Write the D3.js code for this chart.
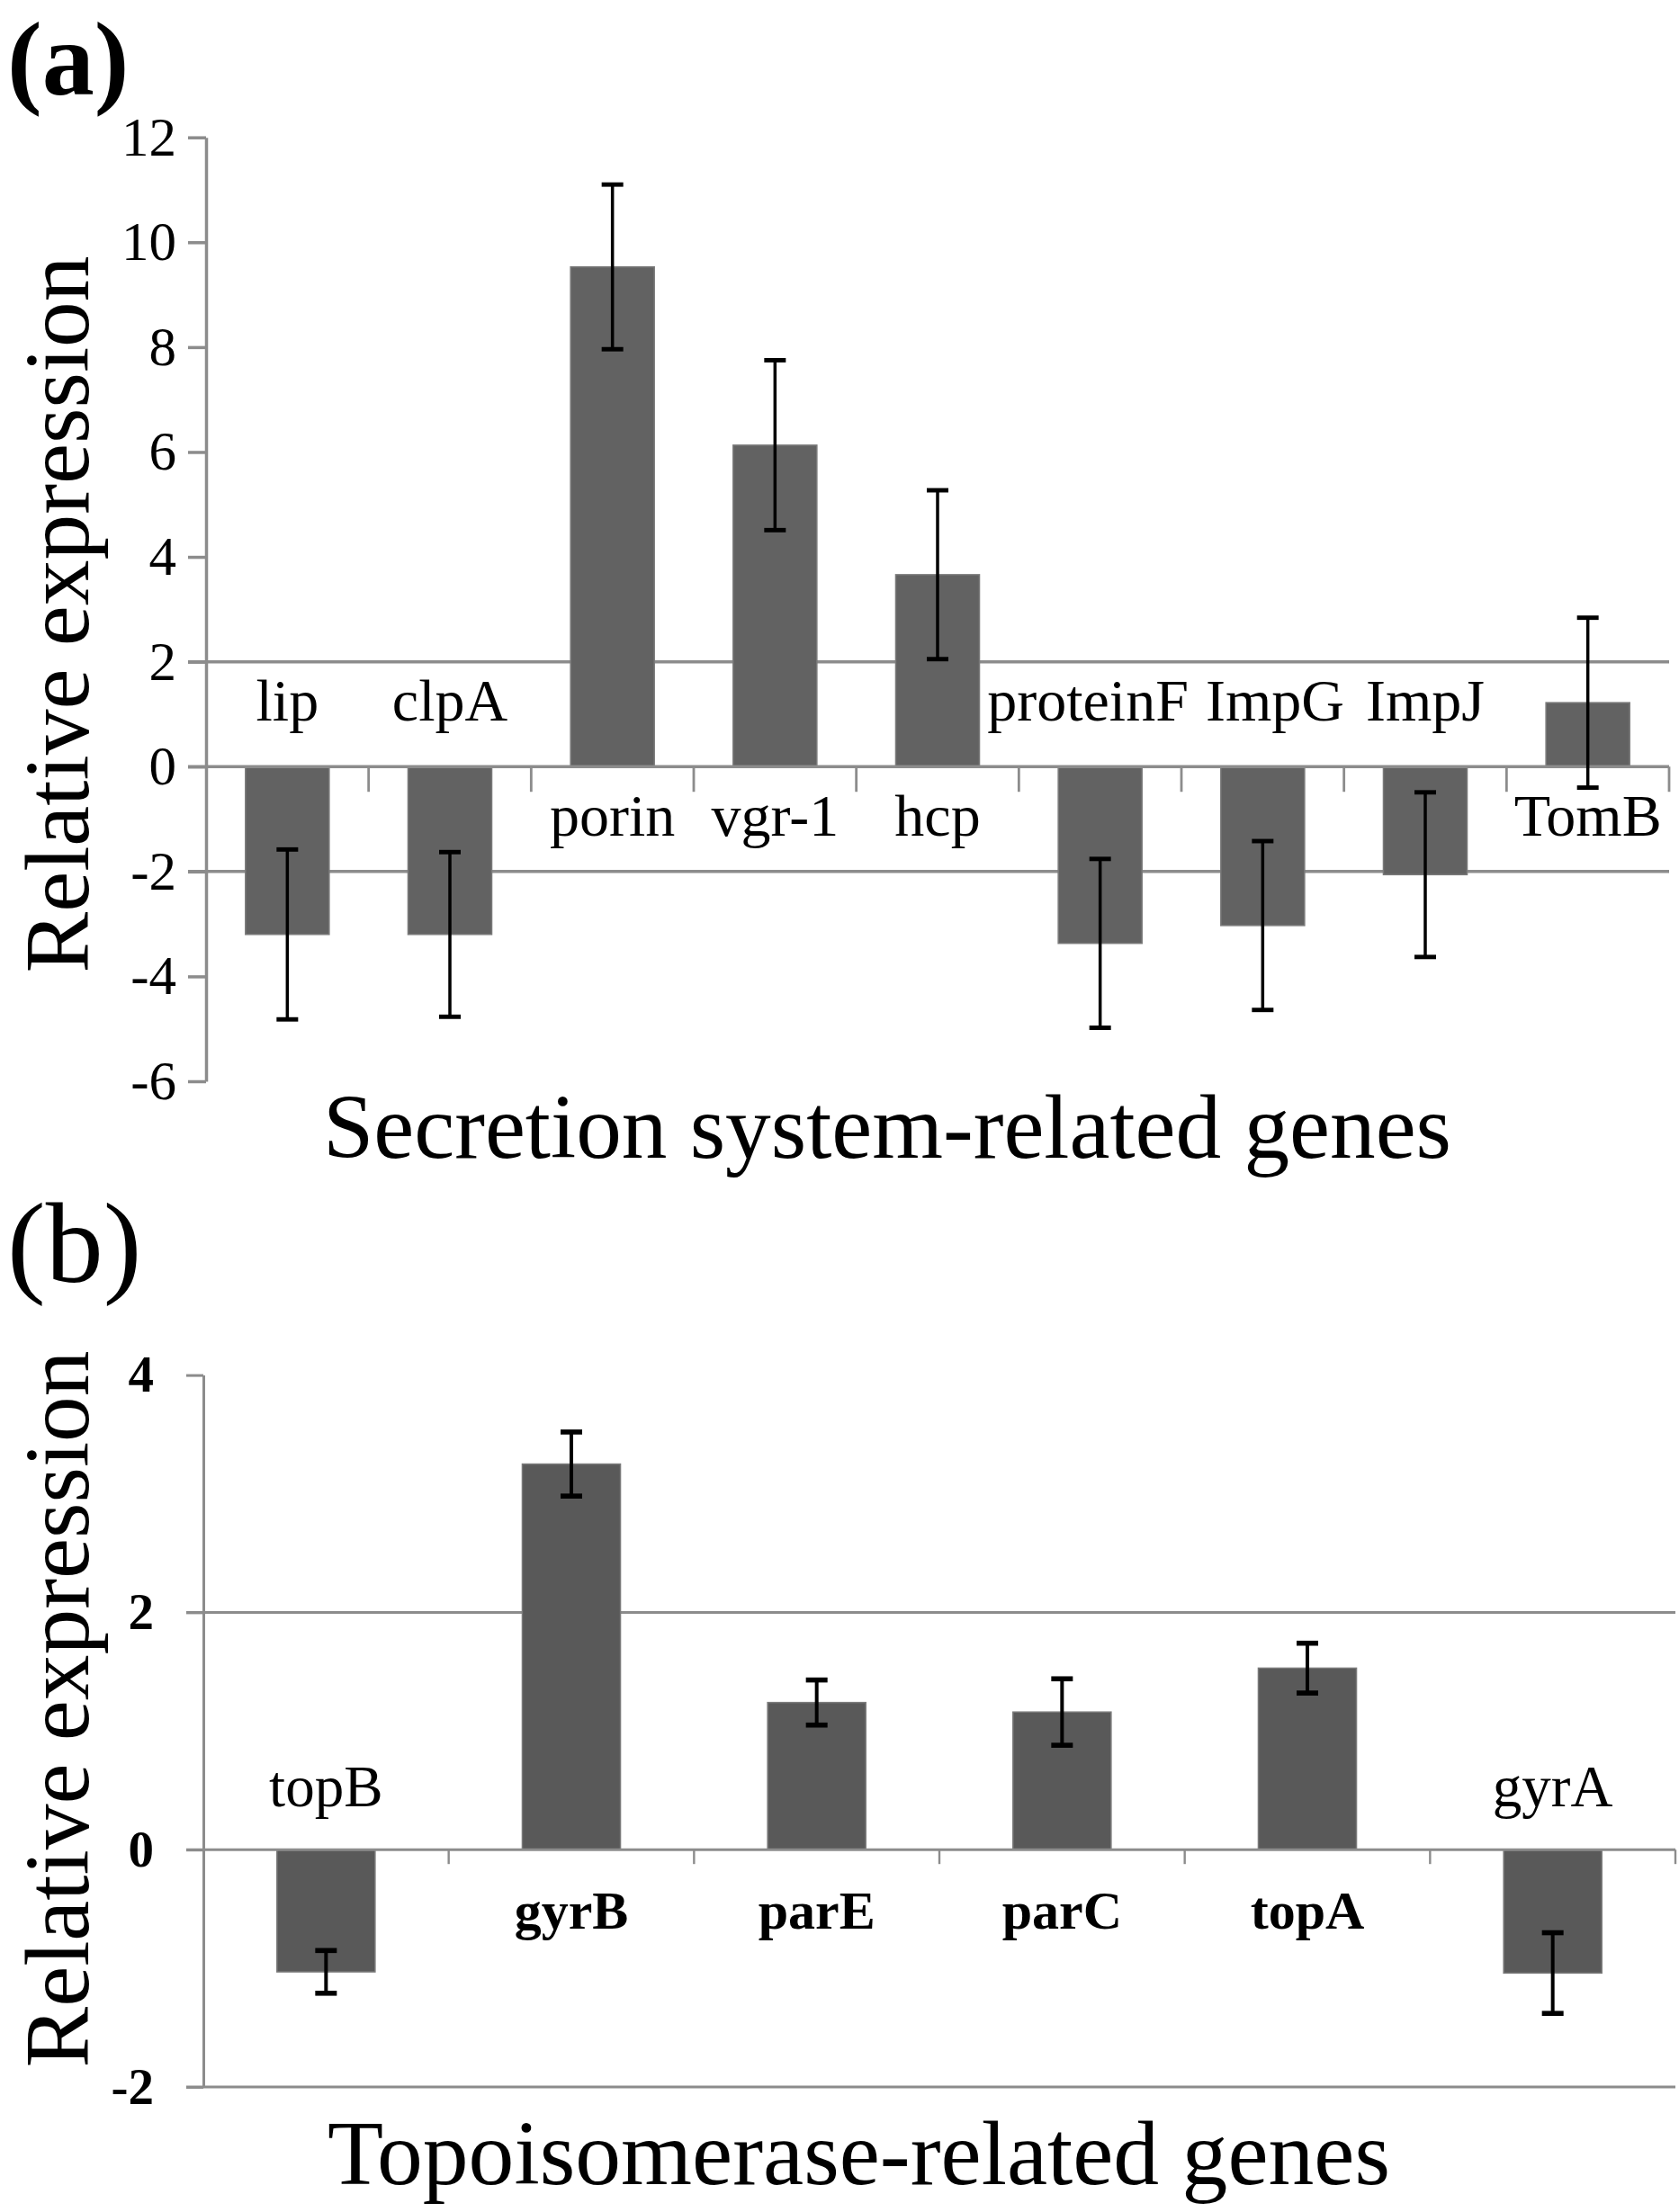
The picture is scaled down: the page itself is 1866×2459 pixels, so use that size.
<!DOCTYPE html>
<html><head><meta charset="utf-8">
<script src="https://cdn.jsdelivr.net/npm/d3@7"></script>
<style>
body{margin:0;background:#fff}
svg{display:block}
text{font-family:"Liberation Serif","Times New Roman",serif;fill:#000}
</style>
</head><body>
<svg id="c" width="1866" height="2459"></svg>
<script>
// ---- Panel (a) data ----
const catsA = ["lip","clpA","porin","vgr-1","hcp","proteinF","ImpG","ImpJ","TomB"];
const valsA = [-3.2,-3.2,9.53,6.13,3.66,-3.37,-3.03,-2.06,1.22];
const errsA = [1.62,1.57,1.57,1.62,1.61,1.61,1.61,1.57,1.62];
const ticksA = [-6,-4,-2,0,2,4,6,8,10,12];
const gridA = [-2,2];
const yTitleA = "Relative expression";
const xTitleA = "Secretion system-related genes";
const tagA = "(a)";

// ---- Panel (b) data ----
const catsB = ["topB","gyrB","parE","parC","topA","gyrA"];
const valsB = [-1.03,3.25,1.24,1.16,1.53,-1.04];
const errsB = [0.18,0.27,0.19,0.28,0.21,0.34];
const ticksB = [-2,0,2,4];
const gridB = [-2,2];
const yTitleB = "Relative expression";
const xTitleB = "Topoisomerase-related genes";
const tagB = "(b)";

const svg = d3.select("#c");
svg.append("rect").attr("width",1866).attr("height",2459).attr("fill","#fff");

function panel(cfg){
  const g = svg.append("g");
  const x = d3.scaleBand().domain(cfg.cats).range([cfg.x0,cfg.x1])
    .paddingInner(cfg.pad).paddingOuter(cfg.pad/2);
  const y = d3.scaleLinear().domain([d3.min(cfg.ticks),d3.max(cfg.ticks)]).range([cfg.yB,cfg.yT]);
  const lineCol = "#8c8c8c";

  // gridlines
  g.selectAll("line.grid").data(cfg.grid).join("line").attr("class","grid")
    .attr("x1",cfg.x0-cfg.tickLen).attr("x2",cfg.x1)
    .attr("y1",d=>y(d)).attr("y2",d=>y(d))
    .attr("stroke",lineCol).attr("stroke-width",cfg.lw);

  // y axis
  const ax = d3.axisLeft(y).tickValues(cfg.ticks).tickFormat(d=>String(d))
    .tickSize(cfg.tickLen).tickSizeOuter(0).tickPadding(cfg.tickPad);
  const ga = g.append("g").attr("transform",`translate(${cfg.x0},0)`).call(ax);
  ga.select(".domain").attr("stroke",lineCol).attr("stroke-width",cfg.lw);
  ga.selectAll(".tick line").attr("stroke",lineCol).attr("stroke-width",cfg.lw);
  ga.selectAll(".tick text").attr("font-size",cfg.tickFont)
    .attr("font-weight",cfg.tickBold?"bold":"normal")
    .attr("font-family","'Liberation Serif','Times New Roman',serif").attr("fill","#000");

  const data = cfg.cats.map((c,i)=>({c,v:cfg.vals[i],e:cfg.errs[i]}));

  // bars
  g.selectAll("rect.bar").data(data).join("rect").attr("class","bar")
    .attr("x",d=>x(d.c)).attr("width",x.bandwidth())
    .attr("y",d=>y(Math.max(0,d.v))).attr("height",d=>Math.abs(y(d.v)-y(0)))
    .attr("fill",cfg.barFill).attr("stroke","#7a7a7a").attr("stroke-width",1.5);

  // zero line + category ticks
  g.append("line").attr("x1",cfg.x0-cfg.tickLen).attr("x2",cfg.x1)
    .attr("y1",y(0)).attr("y2",y(0)).attr("stroke",lineCol).attr("stroke-width",cfg.lw);
  const step = x.step();
  g.selectAll("line.ct").data(d3.range(1,cfg.cats.length+1)).join("line").attr("class","ct")
    .attr("x1",k=>cfg.x0+step*k).attr("x2",k=>cfg.x0+step*k)
    .attr("y1",y(0)).attr("y2",y(0)+cfg.catTick)
    .attr("stroke",lineCol).attr("stroke-width",cfg.lw*0.8);

  // error bars
  const cx = d=>x(d.c)+x.bandwidth()/2;
  const eg = g.selectAll("g.err").data(data).join("g").attr("class","err")
    .attr("stroke","#000").attr("stroke-width",cfg.ew);
  eg.append("line").attr("x1",cx).attr("x2",cx).attr("y1",d=>y(d.v+d.e)).attr("y2",d=>y(d.v-d.e));
  eg.append("line").attr("x1",d=>cx(d)-cfg.cap/2).attr("x2",d=>cx(d)+cfg.cap/2)
    .attr("y1",d=>y(d.v+d.e)).attr("y2",d=>y(d.v+d.e)).attr("stroke-width",cfg.ew*1.4);
  eg.append("line").attr("x1",d=>cx(d)-cfg.cap/2).attr("x2",d=>cx(d)+cfg.cap/2)
    .attr("y1",d=>y(d.v-d.e)).attr("y2",d=>y(d.v-d.e)).attr("stroke-width",cfg.ew*1.4);

  // category labels
  const labs = g.selectAll("text.cl").data(data).join("text").attr("class","cl")
    .attr("x",cx).attr("y",d=>d.v<0? y(0)-cfg.labUp : y(0)+cfg.labDown)
    .attr("text-anchor","middle")
    .attr("font-size",d=>cfg.boldSet.has(d.c)?cfg.labFontBold:cfg.labFont)
    .attr("font-weight",d=>cfg.boldSet.has(d.c)?"bold":"normal")
    .text(d=>d.c);

  // nudge labels on the same side apart when they crowd each other
  const minGap = 19;
  const items = [];
  labs.each(function(d){ const w=this.getComputedTextLength(); items.push({node:this,side:d.v<0,cx:cx(d),w}); });
  [true,false].forEach(side=>{
    const row = items.filter(it=>it.side===side).sort((a,b)=>a.cx-b.cx);
    for(let pass=0;pass<10;pass++){
      for(let i=0;i<row.length-1;i++){
        const a=row[i], b=row[i+1];
        const gap=(b.cx-b.w/2)-(a.cx+a.w/2);
        if(gap<minGap){ const s=(minGap-gap)/2; a.cx-=s; b.cx+=s; }
      }
    }
    row.forEach(it=>d3.select(it.node).attr("x",it.cx));
  });

  // y title
  g.append("text").attr("transform",`translate(${cfg.ytX},${cfg.ytY}) rotate(-90)`)
    .attr("text-anchor","middle").attr("font-size",101)
    .attr("textLength",797).attr("lengthAdjust","spacingAndGlyphs").text(cfg.yTitle);
  // x title
  g.append("text").attr("x",cfg.xtX).attr("y",cfg.xtY).attr("font-size",101)
    .attr("textLength",cfg.xtLen).attr("lengthAdjust","spacingAndGlyphs").text(cfg.xTitle);
  // tag
  g.append("text").attr("x",cfg.tagX).attr("y",cfg.tagY).attr("font-size",cfg.tagSize)
    .attr("font-weight",cfg.tagBold?"bold":"normal").text(cfg.tag);
}

panel({cats:catsA, vals:valsA, errs:errsA, ticks:ticksA, grid:gridA,
  x0:229, x1:1855, yB:1202, yT:152.7, pad:0.485, lw:3.5, tickLen:20, tickPad:13,
  tickFont:61, tickBold:false, barFill:"#626262", catTick:28, ew:3.5, cap:24,
  labUp:51, labDown:77, labFont:66, labFontBold:66, boldSet:new Set(),
  yTitle:yTitleA, ytX:98, ytY:683, xTitle:xTitleA, xtX:359, xtY:1287, xtLen:1254,
  tag:tagA, tagX:8, tagY:105, tagSize:116, tagBold:true});

panel({cats:catsB, vals:valsB, errs:errsB, ticks:ticksB, grid:gridB,
  x0:226, x1:1862, yB:2320, yT:1528.6, pad:0.6, lw:3, tickLen:19, tickPad:36,
  tickFont:57, tickBold:true, barFill:"#595959", catTick:16, ew:4, cap:24,
  labUp:48, labDown:88, labFont:65, labFontBold:60, boldSet:new Set(["gyrB","parE","parC","topA"]),
  yTitle:yTitleB, ytX:98, ytY:1900, xTitle:xTitleB, xtX:364, xtY:2428, xtLen:1181,
  tag:tagB, tagX:8, tagY:1425, tagSize:128, tagBold:false});
</script>
</body></html>
